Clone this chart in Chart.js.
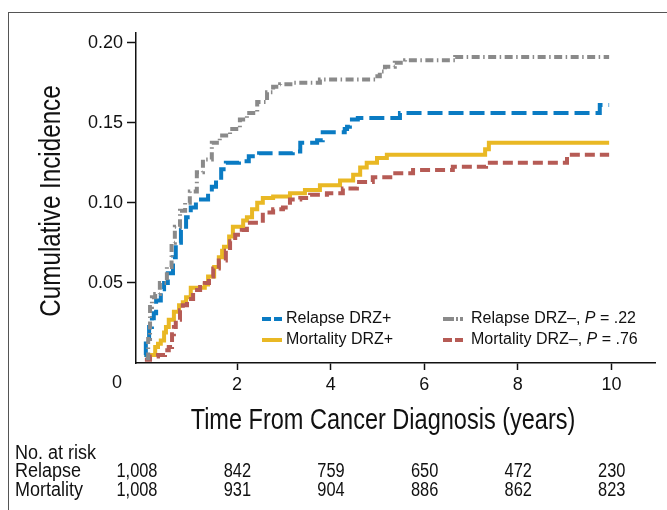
<!DOCTYPE html>
<html><head><meta charset="utf-8">
<script src="https://cdn.jsdelivr.net/npm/chart.js@4/dist/chart.umd.min.js"></script>
<style>
html,body{margin:0;padding:0;background:#fff;}
#wrap{position:relative;width:667px;height:510px;overflow:hidden;}
#frame{position:absolute;left:8px;top:12px;width:700px;height:600px;border-top:1.5px solid #555;border-left:1.5px solid #555;}
canvas{position:absolute;left:0;top:0;}
</style></head><body>
<div id="wrap"><div id="frame"></div><canvas id="c" width="667" height="510"></canvas></div>
<script>
// ---- data (years, cumulative incidence) ----
const relapsePosTime = [0.02,0.05,0.12,0.18,0.22,0.27,0.37,0.44,0.52,0.63,0.69,0.8,0.91,1.01,1.12,1.38,1.46,1.55,1.66,1.76,2.04,2.25,2.47,3.19,3.35,3.71,3.83,4.3,4.35,4.41,4.58,5.48,9.75,9.95];
const relapsePosVal  = [0.005,0.014,0.0225,0.028,0.031,0.039,0.046,0.05,0.056,0.066,0.075,0.083,0.091,0.097,0.102,0.107,0.11,0.114,0.121,0.125,0.126,0.129,0.131,0.132,0.1375,0.139,0.144,0.146,0.1475,0.152,0.153,0.156,0.161,0.161];

const relapseNegTime = [0.05,0.1,0.14,0.18,0.25,0.35,0.5,0.6,0.67,0.78,0.89,0.99,1.14,1.27,1.46,1.63,1.85,2.06,2.21,2.43,2.64,2.77,2.92,3.19,3.77,4.95,5.05,5.16,5.37,5.59,6.66,9.95];
const relapseNegVal  = [0.003,0.015,0.035,0.041,0.043,0.05,0.06,0.075,0.085,0.095,0.1,0.107,0.119,0.127,0.1375,0.142,0.146,0.152,0.156,0.163,0.169,0.1725,0.174,0.175,0.177,0.179,0.182,0.185,0.1875,0.189,0.191,0.191];

const mortalityPosTime = [0.02,0.25,0.31,0.37,0.44,0.48,0.54,0.65,0.76,0.84,0.91,1.01,1.31,1.38,1.51,1.61,1.68,1.72,1.83,1.91,2.13,2.21,2.32,2.43,2.55,2.77,3.13,3.45,3.77,4.2,4.48,4.63,4.77,4.99,5.2,7.3,7.38,9.95];
const mortalityPosVal  = [0.005,0.01,0.012,0.014,0.019,0.0225,0.027,0.032,0.036,0.038,0.041,0.047,0.049,0.054,0.06,0.066,0.07,0.0725,0.079,0.085,0.089,0.091,0.096,0.1,0.103,0.104,0.106,0.108,0.111,0.114,0.1175,0.122,0.125,0.128,0.13,0.1335,0.1375,0.1375];

const mortalityNegTime = [0.03,0.14,0.31,0.46,0.54,0.61,0.65,0.69,0.78,0.84,0.93,1.06,1.21,1.31,1.4,1.49,1.61,1.76,1.85,1.96,2.1,2.21,2.55,2.77,2.98,3.13,3.35,3.56,3.92,4.26,4.56,4.9,5.33,5.76,6.61,7.32,9.05,9.95];
const mortalityNegVal  = [0.002,0.004,0.005,0.008,0.01,0.018,0.0225,0.027,0.033,0.036,0.04,0.0456,0.0475,0.05,0.054,0.059,0.064,0.07,0.076,0.08,0.083,0.0875,0.094,0.096,0.097,0.102,0.103,0.105,0.106,0.109,0.113,0.116,0.1185,0.1205,0.1225,0.125,0.13,0.13];

const xTickValues = [2,4,6,8,10];
const yTickValues = [0.05,0.10,0.15,0.20];
const riskTimes = [0,2,4,6,8,10];
const relapseAtRisk = ['1,008','842','759','650','472','230'];
const mortalityAtRisk = ['1,008','931','904','886','862','823'];

const seriesNames = ['Relapse DRZ+','Mortality DRZ+','Relapse DRZ\u2013','Mortality DRZ\u2013'];
const pValues = ['', '', '.22', '.76'];

const COL = {blue:'#0a7bc3', yellow:'#e9b824', gray:'#8a8a8a', red:'#b65b55'};
const REG = "'Liberation Sans',Arial,sans-serif";

function pts(t,v){ return t.map((x,i)=>({x:x,y:v[i]})); }

const datasets = [
  {label:seriesNames[2], data:pts(relapseNegTime,relapseNegVal), borderColor:COL.gray, borderDash:[8,3.5,1.5,3.5]},
  {label:seriesNames[3], data:pts(mortalityNegTime,mortalityNegVal), borderColor:COL.red, borderDash:[10,5]},
  {label:seriesNames[0], data:pts(relapsePosTime,relapsePosVal), borderColor:COL.blue, borderDash:[15,6]},
  {label:seriesNames[1], data:pts(mortalityPosTime,mortalityPosVal), borderColor:COL.yellow, borderDash:[]},
].map(d=>Object.assign(d,{stepped:'before', borderWidth:4, pointRadius:0, fill:false, borderCapStyle:'butt', tension:0}));

function narrow(ctx, text, x, y, size, align, rot, sx){
  ctx.save(); ctx.translate(x,y); if(rot) ctx.rotate(-Math.PI/2);
  ctx.scale(sx||0.82,1); ctx.font = size+'px '+REG; ctx.textAlign = align; ctx.textBaseline='middle';
  ctx.fillText(text,0,0); ctx.restore();
}

const textPlugin = {
  id:'textPlugin',
  afterDraw(chart){
    const ctx = chart.ctx, xs = chart.scales.x;
    ctx.save();
    ctx.fillStyle = '#111';
    ctx.font = '18px '+REG; ctx.textAlign='center'; ctx.textBaseline='middle';
    ctx.fillText('0', 117, 383);
    narrow(ctx,'Time From Cancer Diagnosis (years)', 383, 421, 28.7, 'center');
    narrow(ctx,'Cumulative Incidence', 52, 201, 29.5, 'center', true);
    narrow(ctx,'No. at risk', 15, 453, 20, 'left', false, 0.9);
    narrow(ctx,'Relapse', 15, 471, 20, 'left', false, 0.9);
    narrow(ctx,'Mortality', 15, 490, 20, 'left', false, 0.9);
    riskTimes.forEach((t,i)=>{
      const px = xs.getPixelForValue(t)+14;
      narrow(ctx, relapseAtRisk[i], px, 471, 20, 'right');
      narrow(ctx, mortalityAtRisk[i], px, 490, 20, 'right');
    });
    const leg = [
      {ds:2, x:262, y:319, dash:[9,3]},
      {ds:3, x:262, y:340, dash:[]},
      {ds:0, x:443, y:319, dash:[11,2,2,2]},
      {ds:1, x:443, y:340, dash:[9,3]},
    ];
    leg.forEach(l=>{
      const d = chart.data.datasets[l.ds];
      ctx.strokeStyle = d.borderColor; ctx.lineWidth = 4; ctx.setLineDash(l.dash); ctx.lineCap='butt';
      ctx.beginPath(); ctx.moveTo(l.x, l.y); ctx.lineTo(l.x+20, l.y); ctx.stroke();
      ctx.setLineDash([]);
      ctx.fillStyle='#111'; ctx.textAlign='left'; ctx.textBaseline='middle';
      let tx = l.x + (l.x<400?24:28);
      const pv = pValues[seriesNames.indexOf(d.label)];
      ctx.font = '16px '+REG;
      if(pv){
        const s1 = d.label+', ';
        ctx.fillText(s1, tx, l.y); tx += ctx.measureText(s1).width;
        ctx.font = 'italic 16px '+REG;
        ctx.fillText('P', tx, l.y); tx += ctx.measureText('P').width;
        ctx.font = '16px '+REG;
        ctx.fillText(' = '+pv, tx, l.y);
      } else {
        ctx.fillText(d.label, tx, l.y);
      }
    });
    ctx.restore();
  }
};

new Chart(document.getElementById('c'), {
  type:'line',
  data:{datasets},
  options:{
    responsive:false, animation:false, devicePixelRatio:1,
    layout:{padding:{left:0, top:33, right:12, bottom:0}},
    plugins:{legend:{display:false}, tooltip:{enabled:false}},
    scales:{
      x:{type:'linear', min:-0.16, max:10.93,
        afterBuildTicks(s){ s.ticks = xTickValues.map(v=>({value:v})); },
        afterFit(s){ s.height = 147; },
        ticks:{font:{size:18, family:REG}, color:'#111', padding:4, maxRotation:0, callback:v=>String(v)},
        grid:{drawOnChartArea:false, drawTicks:true, tickLength:7, tickColor:'#111', tickWidth:1.5},
        border:{display:true, color:'#111', width:1.5}
      },
      y:{type:'linear', min:0, max:0.206,
        afterBuildTicks(s){ s.ticks = yTickValues.map(v=>({value:v})); },
        afterFit(s){ s.width = 136; },
        ticks:{font:{size:18, family:REG}, color:'#111', padding:4, callback:v=>v.toFixed(2)},
        grid:{drawOnChartArea:false, drawTicks:true, tickLength:9, tickColor:'#111', tickWidth:1.5},
        border:{display:true, color:'#111', width:1.5}
      }
    }
  },
  plugins:[textPlugin]
});
</script>
</body></html>
